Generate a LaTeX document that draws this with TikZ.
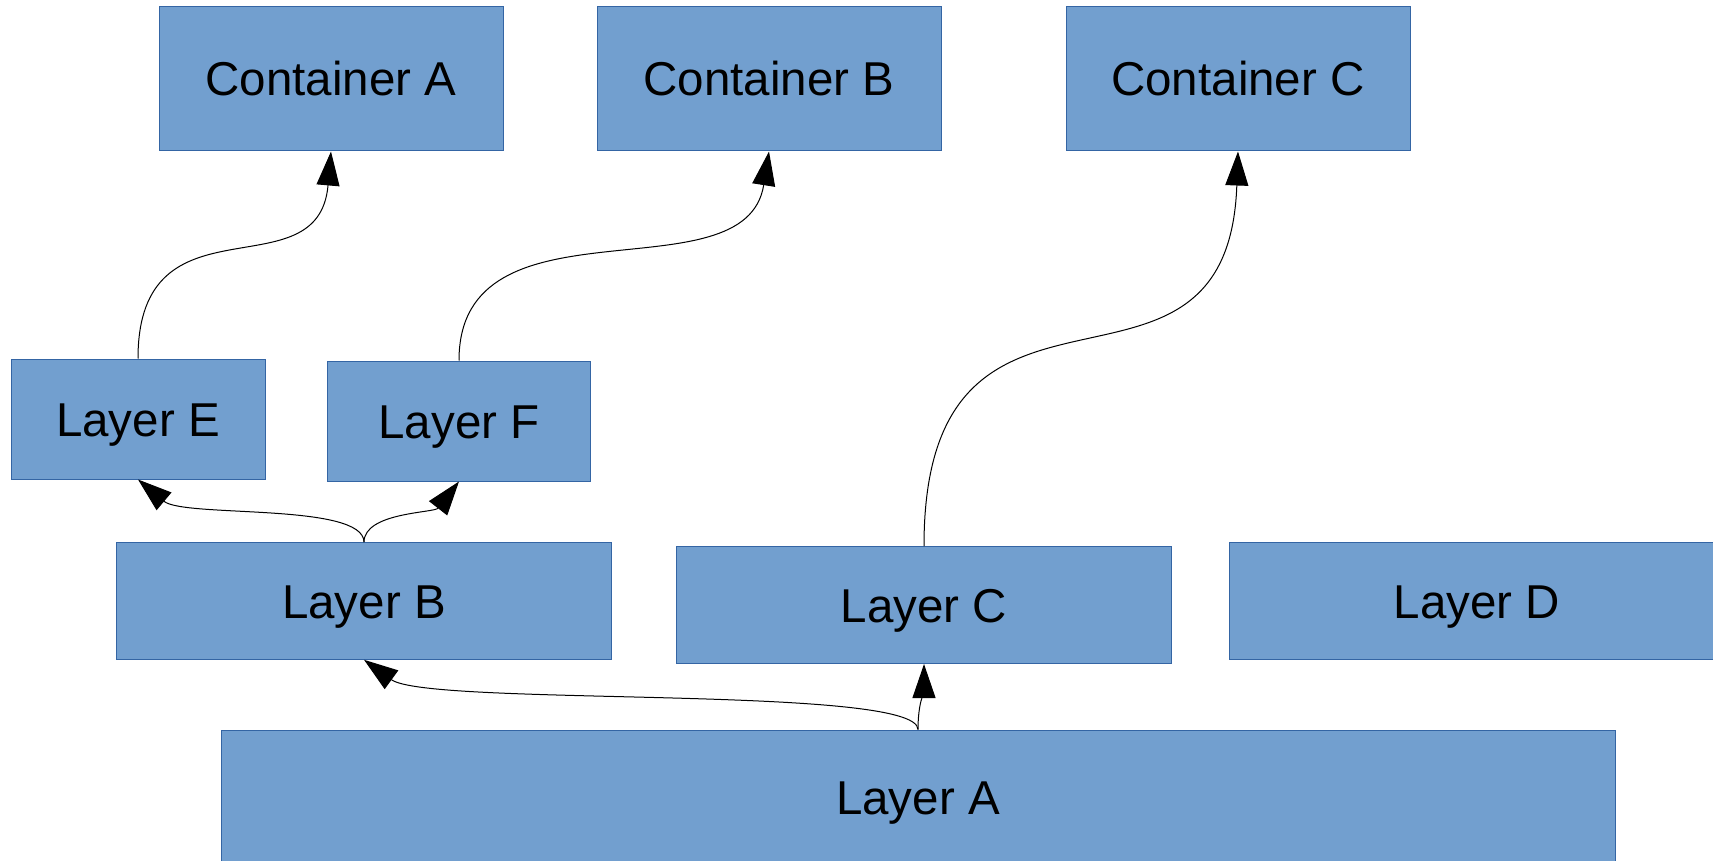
\documentclass[tikz,border=0pt]{standalone}
\usepackage{fontspec}
\setmainfont{Liberation Sans}
\usetikzlibrary{arrows.meta,positioning}
\definecolor{boxfill}{HTML}{729FCF}
\definecolor{boxline}{HTML}{3465A4}

\begin{document}
\begin{tikzpicture}[on grid,>={Triangle[length=17pt,width=11.5pt]}]
  \tikzstyle{block}=[rectangle,draw=boxline,fill=boxfill,line width=0.5pt,inner sep=0pt,
                     text height=17pt,text depth=0pt,font=\fontsize{23.75pt}{28pt}\selectfont]
  \tikzstyle{container}=[block,minimum width=172pt,minimum height=72pt]
  \tikzstyle{conn}=[->,line width=0.5pt]

  \useasboundingbox (0,0) rectangle (856.5pt,-430.5pt);

  \node[container] (ca) at (165.5pt,-39.5pt) {Container A};
  \node[container] (cb) [right=219pt of ca] {Container B};
  \node[container] (cc) [right=234.5pt of cb] {Container C};

  \node[block,minimum width=127pt,minimum height=60pt] (le) [below left=170pt and 96.5pt of ca] {Layer E};
  \node[block,minimum width=131.7pt,minimum height=60pt] (lf) [below right=171pt and 64pt of ca] {Layer F};

  \node[block,minimum width=247.3pt,minimum height=58.3pt] (lb) [below right=91pt and 113pt of le] {Layer B};
  \node[block,minimum width=247.3pt,minimum height=58.5pt] (lc) [below right=2pt and 280pt of lb] {Layer C};
  \node[block,minimum width=247.3pt,minimum height=58.3pt] (ld) [right=556.5pt of lb] {Layer D};
  \node[block,minimum width=697pt,minimum height=67pt] (la) [below right=98pt and 277pt of lb] {Layer A};

  \path[conn] (le) edge [out=90,in=-95,out distance=84pt,in distance=72pt] (ca.south);
  \path[conn] (lf) edge [out=90,in=-99,out distance=85pt,in distance=75pt] (cb.south);
  \path[conn] (lc) edge [out=90,in=-92,out distance=162pt,in distance=146pt] (cc.south);

  \path[conn] (lb) edge [out=90,in=-40,out distance=20pt,in distance=30pt] (le.south);
  \path[conn] (lb) edge [out=90,in=-128,out distance=15pt,in distance=20pt] (lf.south);

  \path[conn] (la) edge [out=90,in=-36,out distance=22.5pt,in distance=40pt] (lb.south);
  \path[conn] (la) edge [out=90,in=-90] (lc.south);
\end{tikzpicture}
\end{document}
